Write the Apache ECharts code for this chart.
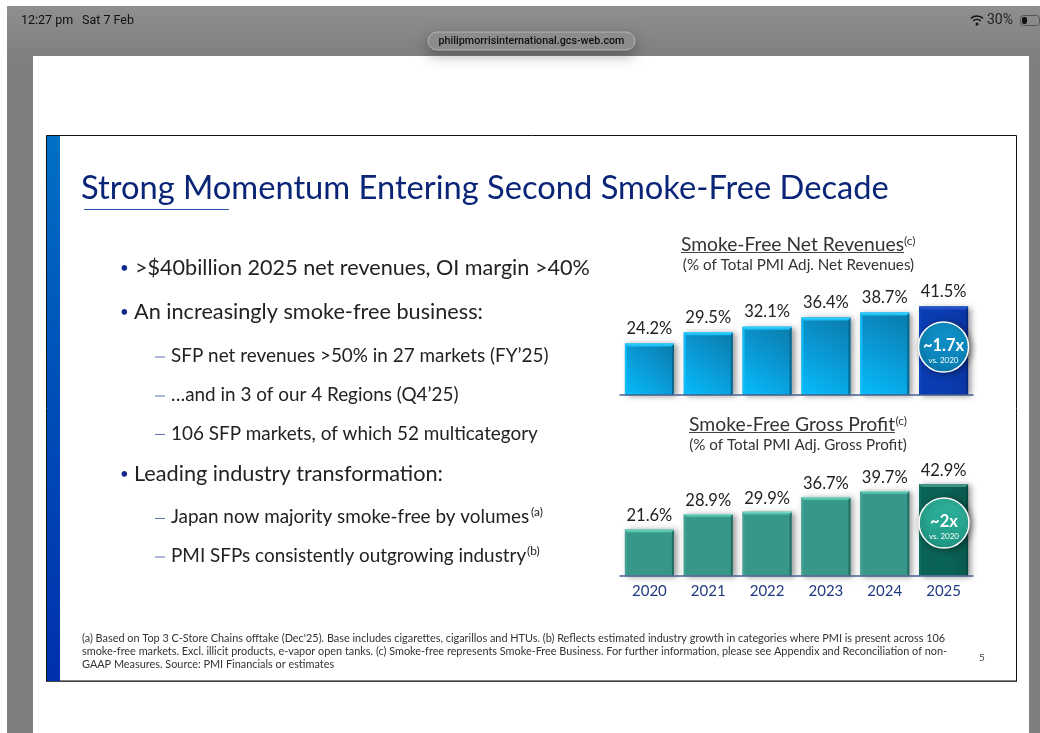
<!DOCTYPE html>
<html>
<head>
<meta charset="utf-8">
<style>html,body{margin:0;padding:0;background:#fff}#c{width:1040px;height:733px}</style>
<script src="https://cdn.jsdelivr.net/npm/echarts@6/dist/echarts.min.js"></script>
</head>
<body>
<div id="c"></div>
<script>
const years = ['2020','2021','2022','2023','2024','2025'];
const netRevenueShare = [24.2,29.5,32.1,36.4,38.7,41.5];
const grossProfitShare = [21.6,28.9,29.9,36.7,39.7,42.9];
const slideTitle = 'Strong Momentum Entering Second Smoke-Free Decade';
const footnotes = [
 "(a) Based on Top 3 C-Store Chains offtake (Dec'25). Base includes cigarettes, cigarillos and HTUs. (b) Reflects estimated industry growth in categories where PMI is present across 106",
 "smoke-free markets. Excl. illicit products, e-vapor open tanks. (c) Smoke-free represents Smoke-Free Business. For further information, please see Appendix and Reconciliation of non-",
 "GAAP Measures. Source: PMI Financials or estimates"
];
const FONT = 'Lato';
const G = echarts.graphic;
function lin(x,y,x2,y2,a){return new G.LinearGradient(x,y,x2,y2,a.map((c,i)=>({offset:c[0],color:c[1]})));}

function T(text,x,y,size,color,extra){
  return Object.assign({type:'text',z:(extra&&extra.z)||10,x:x,y:y,silent:true,
    style:{text:text,fontFamily:(extra&&extra.font)||FONT,fontSize:size,fill:color,
      fontWeight:(extra&&extra.weight)||'normal',
      textAlign:(extra&&extra.align)||'left',textVerticalAlign:'middle'}},{});
}
function R(x,y,w,h,fill,z,extra){
  return Object.assign({type:'rect',z:z||1,silent:true,shape:{x:x,y:y,width:w,height:h,r:(extra&&extra.r)||0},
    style:Object.assign({fill:fill},(extra&&extra.style)||{})},{});
}
function L(x1,y1,x2,y2,color,w,z){
  return {type:'line',z:z||10,silent:true,shape:{x1:x1,y1:y1,x2:x2,y2:y2},style:{stroke:color,lineWidth:w}};
}
function badge(cx,cy,fill,big){
  return [
    {type:'circle',z:50,silent:true,shape:{cx:cx,cy:cy,r:25},
     style:{fill:fill,stroke:'#fff',lineWidth:1.5,shadowBlur:7,shadowColor:'rgba(0,0,0,0.45)',shadowOffsetX:2,shadowOffsetY:1}},
    Object.assign(T(big,cx,cy-1.5,16.5,'#fff',{align:'center',weight:'bold'}),{z:51}),
    Object.assign(T('vs. 2020',cx,cy+13,8,'#fff',{align:'center'}),{z:51})
  ];
}

const bg = [
  R(7,6,1033,727,lin(0,0,0,1,[[0,'#8f8f8f'],[0.07,'#7f7f7f'],[1,'#7f7f7f']]),0),
  R(33,56,996,677,'#fff',1),
  R(46.5,135.5,970,546,'#fff',2,{style:{stroke:'#111',lineWidth:1}}),
  L(47,681,1016,681,'#555',1.5,3),
  R(47,136,13,545,lin(0,0,0,1,[[0,'#0070c4'],[0.45,'#0050b8'],[1,'#0030ae']]),3),
  T('12:27 pm',21,20.5,12.5,'#111',{font:'Roboto'}),
  T('Sat 7 Feb',82,20.5,12.5,'#111',{font:'Roboto'}),
  T('30%',987,20.5,14,'#222',{font:'Roboto'}),
  {type:'arc',z:10,silent:true,shape:{cx:977,cy:25,r:9,startAngle:-2.3,endAngle:-0.84},style:{stroke:'#111',lineWidth:1.6,fill:'none'}},
  {type:'arc',z:10,silent:true,shape:{cx:977,cy:25,r:5.5,startAngle:-2.3,endAngle:-0.84},style:{stroke:'#111',lineWidth:1.6,fill:'none'}},
  {type:'circle',z:10,silent:true,shape:{cx:977,cy:24,r:1.5},style:{fill:'#111'}},
  R(1020.5,15.5,19,10,'transparent',10,{r:3,style:{stroke:'#555',lineWidth:1}}),
  R(1022,17,5,7,'#111',11,{r:2}),
  R(428,32,207,18,'#8f8f8f',9,{r:9,style:{stroke:'#b5b5b5',lineWidth:1,shadowBlur:14,shadowColor:'rgba(0,0,0,0.3)',shadowOffsetY:5}}),
  T('philipmorrisinternational.gcs-web.com',531.5,41,10.75,'#111',{align:'center',font:'Roboto',weight:'500'}),

  T(slideTitle,81,188.5,32.66,'#0a2578'),
  L(84,209.5,229,209.5,'#2d55b5',1),

  T('•',120,268,15,'#12288a'),
  T('>$40billion 2025 net revenues, OI margin >40%',135,268,21.6,'#222'),
  T('•',120,312.5,15,'#12288a'),
  T('An increasingly smoke-free business:',134,312.5,21.7,'#222'),
  R(155,356.5,10,1,'#5a6fb0',10),
  T('SFP net revenues >50% in 27 markets (FY’25)',171,356,18.9,'#222'),
  R(155,395.5,10,1,'#5a6fb0',10),
  T('…and in 3 of our 4 Regions (Q4’25)',171,395,18.9,'#222'),
  R(155,434,10,1,'#5a6fb0',10),
  T('106 SFP markets, of which 52 multicategory',171,433.5,18.9,'#222'),
  T('•',120,474.5,15,'#12288a'),
  T('Leading industry transformation:',134,474.5,21.7,'#222'),
  R(155,518,10,1,'#5a6fb0',10),
  T('Japan now majority smoke-free by volumes',171,517,18.9,'#222'),
  T('(a)',531,512,12,'#222'),
  R(155,556.5,10,1,'#5a6fb0',10),
  T('PMI SFPs consistently outgrowing industry',171,556,18.9,'#222'),
  T('(b)',527,551,12,'#222'),

  T('Smoke-Free Net Revenues',681,245,19.25,'#333'),
  T('(c)',904,241,12,'#333'),
  L(681,252.5,904,252.5,'#444',1),
  T('(% of Total PMI Adj. Net Revenues)',798.5,265,15.2,'#333',{align:'center'}),
  T('Smoke-Free Gross Profit',689,425,19.35,'#333'),
  T('(c)',895.5,421,12,'#333'),
  L(689,432.5,895,432.5,'#444',1),
  T('(% of Total PMI Adj. Gross Profit)',798,445.5,15.2,'#333',{align:'center'}),

  T(footnotes[0],82,638.5,10.88,'#333'),
  T(footnotes[1],82,651.5,10.88,'#333'),
  T(footnotes[2],82,664.5,10.88,'#333'),
  T('5',982,657.5,10,'#444',{align:'center'})
];
const badges = [].concat(
  badge(943.5,347,lin(0,0,0,1,[[0,'#0e93c9'],[1,'#0a7fb5']]),'~1.7x'),
  badge(944,523,lin(0,0,0,1,[[0,'#2fb39c'],[1,'#1f9a86']]),'~2x')
);

// bevels and edges, placed through the axis scale
function bevel(gridIdx,topCol,hiCol,leftCol,rightCol,hiLast,leftLast,rightLast){
  return {
    type:'custom',xAxisIndex:gridIdx,yAxisIndex:gridIdx,z:6,silent:true,
    encode:{x:0,y:1},
    data:(gridIdx===0?netRevenueShare:grossProfitShare).map((v,i)=>[i,v]),
    renderItem:function(params,api){
      const i=api.value(0), top=api.coord([i,api.value(1)]), base=api.coord([i,0]);
      const w=49,x=top[0]-w/2,y=top[1],h=base[1]-top[1],last=i===5;
      const poly=(pts,fill)=>({type:'polygon',shape:{points:pts},style:{fill:fill}});
      return {type:'group',children:[
        poly([[x,y],[x+w,y],[x+w-2,y+3],[x+2,y+3]],last?hiLast:hiCol),
        poly([[x,y],[x+2,y+3],[x+2,y+h],[x,y+h]],last?leftLast:leftCol),
        poly([[x+w,y],[x+w-2,y+3],[x+w-2,y+h],[x+w,y+h]],last?rightLast:rightCol),
        {type:'line',shape:{x1:x,y1:y+0.5,x2:x+w,y2:y+0.5},style:{stroke:last?hiLast:topCol,lineWidth:1}}
      ]};
    }
  };
}
function barSeries(idx,vals,normal,last,shadow,dist){
  return {
    type:'bar',xAxisIndex:idx,yAxisIndex:idx,barWidth:49,z:5,silent:true,
    data:vals.map((v,i)=>({value:v,itemStyle:{color:i===5?last:normal,shadowBlur:6,shadowColor:shadow,shadowOffsetX:3,shadowOffsetY:1}})),
    label:{show:true,position:'top',distance:dist,fontFamily:FONT,fontSize:16.5,color:'#222',formatter:p=>p.value.toFixed(1)+'%'}
  };
}
const axisLine={show:true,lineStyle:{color:'#47608f',width:1.5}};
const option={
  animation:false,
  backgroundColor:'#fff',
  graphic:{elements:bg.concat(badges)},
  grid:[
    {left:620,width:353,top:395-106.5,height:106.5},
    {left:620,width:353,top:575.5-106.5,height:106.5}
  ],
  xAxis:[
    {type:'category',gridIndex:0,data:years,axisLine:axisLine,axisTick:{show:false},axisLabel:{show:false},z:8},
    {type:'category',gridIndex:1,data:years,axisLine:axisLine,axisTick:{show:false},z:8,
     axisLabel:{show:true,fontFamily:FONT,fontSize:15,color:'#1f3a80',margin:8,interval:0}}
  ],
  yAxis:[
    {type:'value',gridIndex:0,min:0,max:50,show:false},
    {type:'value',gridIndex:1,min:0,max:50,show:false}
  ],
  series:[
    barSeries(0,netRevenueShare,
      lin(0,1,1,0,[[0,'#05bdfb'],[0.5,'#0a99d6'],[1,'#0a7aa8']]),
      lin(0,0,1,0,[[0,'#0a3cb4'],[0.5,'#0a3cb0'],[1,'#0a36a4']]),'rgba(0,0,0,0.4)',6),
    bevel(0,'#3fd2ff','#1fc0f5','#10bdf8','#06688f','#2452c8','#0e44bb','#062a84'),
    barSeries(1,grossProfitShare,
      '#37988a',
      lin(0,0,1,0,[[0,'#0a6354'],[0.5,'#0a6456'],[1,'#095a4e']]),'rgba(0,0,0,0.4)',5),
    bevel(1,'#7fdccb','#55bfa9','#45a193','#236d62','#3f9484','#0f7060','#074a40')
  ]
};
const chart=echarts.init(document.getElementById('c'),null,{renderer:'canvas'});
chart.setOption(option);
</script>
</body>
</html>
